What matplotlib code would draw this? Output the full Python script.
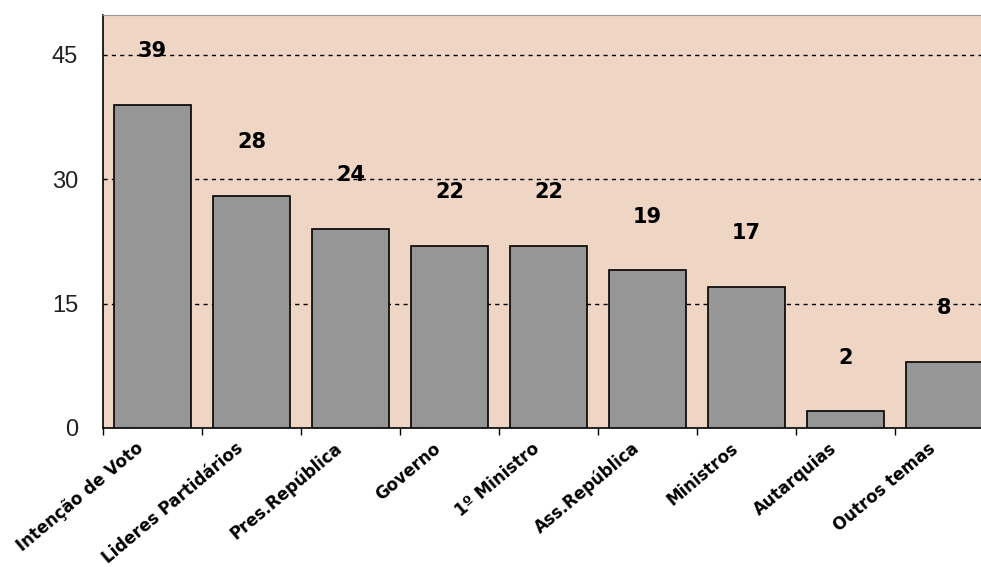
import matplotlib.pyplot as plt

categories = ['Intenção de Voto', 'Lideres Partidários', 'Pres.República', 'Governo',
              '1º Ministro', 'Ass.República', 'Ministros', 'Autarquias', 'Outros temas']
values = [39, 28, 24, 22, 22, 19, 17, 2, 8]
yticks = [0, 15, 30, 45]

fig = plt.figure(figsize=(9.81, 5.67), dpi=100)
ax = fig.add_axes([103 / 981, 1 - 428 / 567, 891 / 981, 413 / 567])
ax.set_facecolor('#efd5c3')

x = range(len(categories))
ax.bar(x, values, width=0.78, color='#969696', edgecolor='black', linewidth=1.2, zorder=3)

# rotulos dos valores acima das barras
for i, v in enumerate(values):
    ax.text(i, v + 6.5, str(v), ha='center', va='center', fontsize=15,
            fontweight='bold', color='black', zorder=4)

ax.set_xlim(-0.5, len(categories) - 0.5)
ax.set_ylim(0, 49.8)
ax.set_yticks(yticks)
ax.set_yticklabels([str(t) for t in yticks], fontsize=17, color='#222222',
                   family='Liberation Sans')
ax.tick_params(axis='y', length=0, pad=18)

for t in yticks[1:]:
    ax.axhline(t, color='black', linestyle=(0, (3, 3)), linewidth=1, zorder=2)

# marcas do eixo x nas fronteiras das categorias
ax.set_xticks([i - 0.5 for i in range(len(categories))], minor=False)
ax.set_xticklabels([])
ax.tick_params(axis='x', direction='out', length=5, width=1, color='black')
for i, c in enumerate(categories):
    ax.annotate(c, xy=(i, 0), xycoords='data', xytext=(-12, -8), textcoords='offset points',
                rotation=40, ha='right', va='top', rotation_mode='anchor',
                fontsize=12, fontweight='bold', color='black', annotation_clip=False)

ax.spines['left'].set_color('black')
ax.spines['left'].set_linewidth(1.2)
ax.spines['bottom'].set_color('black')
ax.spines['bottom'].set_linewidth(1.2)
ax.spines['top'].set_color('#999999')
ax.spines['right'].set_visible(False)

fig.savefig('out.png', dpi=100)
